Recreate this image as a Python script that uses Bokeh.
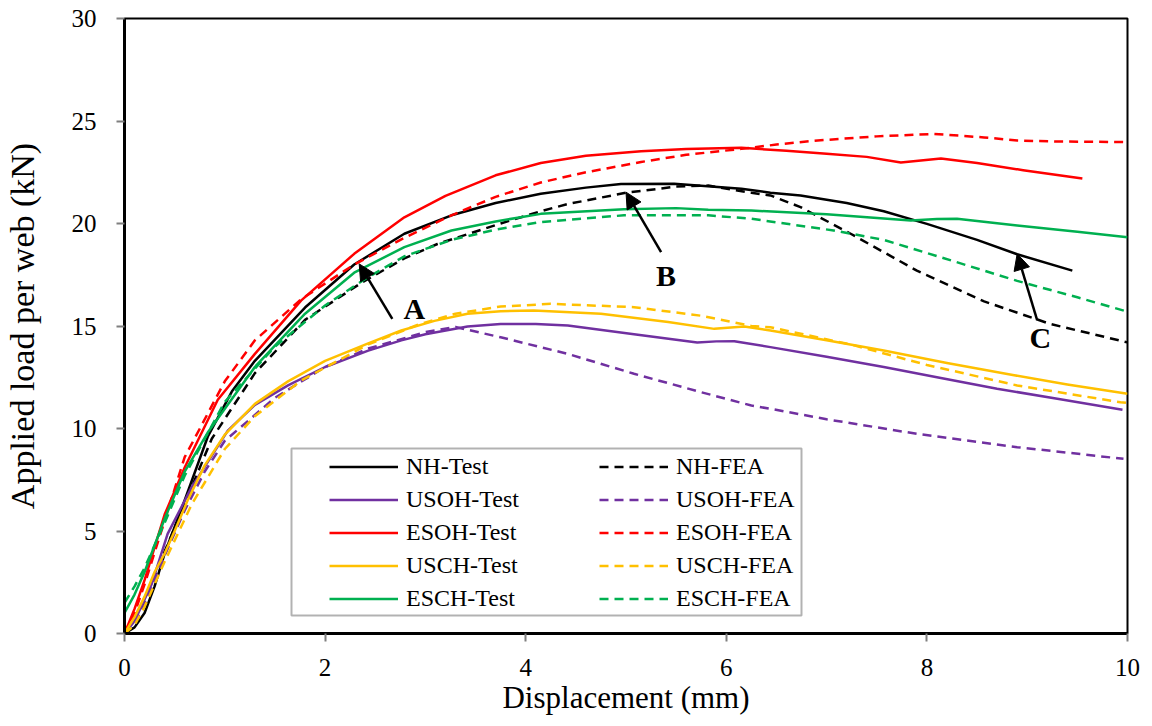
from bokeh.plotting import figure
from bokeh.models import (Legend, LegendItem, FixedTicker, Arrow, NormalHead,
                          Label, BoxAnnotation, Range1d)
from bokeh.embed import file_html
from bokeh.resources import INLINE

FONT = "Liberation Serif"

# ---------------- data ----------------
nh_test_x = [0, 0.1, 0.2, 0.3, 0.4, 0.6, 0.83, 1.07, 1.3, 1.8, 2.29, 2.79, 3.26, 3.7, 4.15, 4.6, 4.95, 5.48, 6.15, 6.44, 6.74, 7.2, 7.57, 8.0, 8.5, 8.9, 9.45]
nh_test_y = [0, 0.3, 1.0, 2.3, 3.9, 6.5, 9.6, 11.8, 13.3, 15.9, 18.0, 19.5, 20.4, 21.0, 21.45, 21.75, 21.93, 21.94, 21.7, 21.5, 21.37, 21.0, 20.6, 19.98, 19.2, 18.5, 17.7]

nh_fea_x = [0, 0.1, 0.2, 0.4, 0.6, 0.87, 1.3, 1.8, 2.36, 2.79, 3.12, 3.75, 4.15, 4.42, 5.0, 5.5, 5.82, 6.25, 6.44, 6.74, 7.24, 7.9, 8.57, 9.23, 10]
nh_fea_y = [0, 0.6, 1.6, 4.0, 6.3, 9.5, 12.7, 15.3, 17.1, 18.3, 19.0, 20.0, 20.6, 20.95, 21.5, 21.8, 21.85, 21.5, 21.37, 20.8, 19.5, 17.7, 16.2, 15.1, 14.2]

esoh_test_x = [0, 0.1, 0.2, 0.4, 0.6, 0.93, 1.3, 1.76, 2.29, 2.79, 3.2, 3.7, 4.15, 4.6, 5.15, 5.6, 6.15, 6.6, 7.0, 7.4, 7.74, 8.14, 8.5, 8.96, 9.55]
esoh_test_y = [0, 1.2, 2.6, 5.8, 8.1, 11.4, 13.64, 16.24, 18.52, 20.3, 21.35, 22.35, 22.95, 23.3, 23.52, 23.64, 23.69, 23.55, 23.4, 23.25, 22.98, 23.17, 22.95, 22.6, 22.2]

esoh_fea_x = [0, 0.1, 0.2, 0.4, 0.6, 1.0, 1.3, 1.76, 2.29, 2.79, 3.26, 3.7, 4.15, 4.6, 5.15, 5.6, 6.15, 6.5, 6.91, 7.5, 8.07, 8.57, 8.9, 9.3, 10]
esoh_fea_y = [0, 1.0, 2.4, 5.5, 8.6, 12.3, 14.3, 16.3, 18.0, 19.3, 20.4, 21.3, 22.0, 22.5, 23.0, 23.35, 23.64, 23.85, 24.05, 24.25, 24.37, 24.2, 24.05, 24.0, 23.97]

usoh_test_x = [0, 0.1, 0.27, 0.43, 0.67, 1.03, 1.3, 1.63, 2.0, 2.43, 2.76, 3.0, 3.42, 3.75, 4.1, 4.42, 5.08, 5.71, 5.9, 6.08, 6.44, 7.0, 7.57, 8.1, 8.7, 9.3, 9.95]
usoh_test_y = [0, 0.6, 2.4, 4.86, 7.14, 9.9, 11.15, 12.1, 13.0, 13.8, 14.3, 14.6, 14.98, 15.1, 15.1, 15.02, 14.6, 14.2, 14.25, 14.26, 13.97, 13.5, 13.0, 12.5, 11.94, 11.45, 10.91]

usoh_fea_x = [0, 0.1, 0.2, 0.4, 0.6, 0.8, 1.0, 1.5, 2.0, 2.43, 3.0, 3.3, 3.75, 4.42, 5.08, 5.75, 6.25, 6.44, 7.0, 7.9, 8.9, 9.96]
usoh_fea_y = [0, 0.5, 1.4, 3.8, 6.0, 7.9, 9.4, 11.5, 13.0, 13.9, 14.7, 14.95, 14.45, 13.64, 12.67, 11.77, 11.12, 10.96, 10.45, 9.74, 9.09, 8.52]

usch_test_x = [0, 0.1, 0.2, 0.3, 0.4, 0.5, 0.63, 0.8, 1.0, 1.3, 1.63, 2.0, 2.43, 2.76, 3.09, 3.42, 3.75, 4.08, 4.75, 5.42, 5.88, 6.18, 6.44, 7.0, 7.57, 8.2, 8.87, 9.4, 10]
usch_test_y = [0, 0.8, 1.8, 3.0, 3.9, 5.0, 6.5, 8.2, 9.7, 11.2, 12.3, 13.3, 14.15, 14.78, 15.25, 15.6, 15.72, 15.76, 15.6, 15.2, 14.86, 14.98, 14.78, 14.3, 13.8, 13.2, 12.6, 12.15, 11.7]

usch_fea_x = [0, 0.1, 0.2, 0.4, 0.67, 1.0, 1.3, 1.76, 2.43, 2.92, 3.3, 3.75, 4.25, 5.08, 5.75, 6.25, 6.44, 7.24, 8.0, 8.9, 9.93, 10]
usch_fea_y = [0, 0.4, 1.3, 3.5, 6.3, 9.0, 10.6, 12.34, 14.1, 15.05, 15.6, 15.95, 16.08, 15.92, 15.5, 15.0, 14.94, 14.1, 13.1, 12.1, 11.28, 11.25]

esch_test_x = [0, 0.1, 0.2, 0.4, 0.6, 0.83, 1.3, 1.8, 2.29, 2.79, 3.26, 3.7, 4.15, 4.98, 5.5, 5.82, 6.25, 7.0, 7.84, 8.1, 8.3, 8.9, 9.5, 10]
esch_test_y = [1.0, 1.9, 3.0, 5.6, 7.9, 9.8, 13.0, 15.6, 17.6, 18.85, 19.66, 20.1, 20.47, 20.7, 20.75, 20.67, 20.63, 20.45, 20.15, 20.22, 20.23, 19.9, 19.6, 19.33]

esch_fea_x = [0, 0.1, 0.2, 0.4, 0.6, 1.0, 1.5, 2.0, 2.4, 2.79, 3.26, 3.7, 4.15, 4.98, 5.82, 6.25, 7.07, 7.57, 8.24, 8.9, 9.5, 10]
esch_fea_y = [1.5, 2.3, 3.2, 5.4, 7.7, 11.3, 14.0, 16.0, 17.3, 18.4, 19.2, 19.7, 20.07, 20.4, 20.4, 20.23, 19.66, 19.2, 18.2, 17.2, 16.4, 15.7]

series_names = ["NH", "USOH", "ESOH", "USCH", "ESCH"]
series_colors = ["#000000", "#7030A0", "#FF0000", "#FFC000", "#00B050"]
test_data = [(nh_test_x, nh_test_y), (usoh_test_x, usoh_test_y), (esoh_test_x, esoh_test_y),
             (usch_test_x, usch_test_y), (esch_test_x, esch_test_y)]
fea_data = [(nh_fea_x, nh_fea_y), (usoh_fea_x, usoh_fea_y), (esoh_fea_x, esoh_fea_y),
            (usch_fea_x, usch_fea_y), (esch_fea_x, esch_fea_y)]

x_ticks = [0, 2, 4, 6, 8, 10]
y_ticks = [0, 5, 10, 15, 20, 25, 30]

# annotation arrows: (tail x, tail y, head x, head y) and letters
arrow_names = ["A", "B", "C"]
arrow_tail_x = [2.67, 5.35, 9.10]
arrow_tail_y = [15.35, 18.60, 15.27]
arrow_head_x = [2.34, 5.00, 8.90]
arrow_head_y = [18.03, 21.53, 18.52]
letter_x = [2.89, 5.40, 9.13]
letter_y = [15.84, 17.46, 14.45]

# ---------------- figure ----------------
p = figure(width=1144, height=723, output_backend="svg", toolbar_location=None,
           x_range=Range1d(0, 10), y_range=Range1d(0, 30),
           min_border_left=123, min_border_right=17, min_border_top=18, min_border_bottom=90)
p.background_fill_color = "white"
p.border_fill_color = "white"
p.grid.visible = False
p.outline_line_color = "black"
p.outline_line_width = 2

for ax, ticks in ((p.xaxis[0], x_ticks), (p.yaxis[0], y_ticks)):
    ax.ticker = FixedTicker(ticks=ticks)
    ax.minor_tick_line_color = None
    ax.major_tick_in = 0
    ax.major_tick_out = 8
    ax.major_tick_line_color = "#7f7f7f"
    ax.major_tick_line_width = 2
    ax.axis_line_color = "black"
    ax.axis_line_width = 3
    ax.major_label_text_font = FONT
    ax.major_label_text_font_size = "25px"
    ax.major_label_text_color = "black"
    ax.axis_label_text_font = FONT
    ax.axis_label_text_font_style = "normal"
    ax.axis_label_text_color = "black"

p.xaxis.axis_label = "Displacement (mm)"
p.xaxis.axis_label_text_font_size = "31px"
p.xaxis.major_label_standoff = 17
p.xaxis.axis_label_standoff = 1
p.yaxis.axis_label = "Applied load per web (kN)"
p.yaxis.axis_label_text_font_size = "34px"
p.yaxis.major_label_standoff = 20
p.yaxis.axis_label_standoff = 28

test_items = []
fea_items = []
for name, color, (tx, ty), (fx, fy) in zip(series_names, series_colors, test_data, fea_data):
    rt = p.line(tx, ty, line_color=color, line_width=2.5, line_join="round")
    rf = p.line(fx, fy, line_color=color, line_width=2.5, line_dash="9 6", line_join="round")
    test_items.append(LegendItem(label=name + "-Test", renderers=[rt]))
    fea_items.append(LegendItem(label=name + "-FEA", renderers=[rf]))

for i in range(len(arrow_names)):
    p.add_layout(Arrow(end=NormalHead(size=16, fill_color="black", line_color="black", line_width=1),
                       x_start=arrow_tail_x[i], y_start=arrow_tail_y[i],
                       x_end=arrow_head_x[i], y_end=arrow_head_y[i],
                       line_color="black", line_width=2.5))
    p.add_layout(Label(x=letter_x[i], y=letter_y[i], text=arrow_names[i],
                       text_font=FONT, text_font_style="bold", text_font_size="30px",
                       text_align="center", text_baseline="middle", text_color="black"))

def make_legend(items, loc):
    lg = Legend(items=items, location=loc, orientation="vertical")
    lg.border_line_color = None
    lg.background_fill_alpha = 0
    lg.padding = 0
    lg.margin = 0
    lg.spacing = 6
    lg.glyph_width = 69
    lg.glyph_height = 27
    lg.label_height = 27
    lg.label_standoff = 8
    lg.label_text_font = FONT
    lg.label_text_font_size = "24px"
    lg.label_text_color = "black"
    lg.label_text_baseline = "middle"
    return lg

p.add_layout(make_legend(test_items, (205, 21)), "center")
p.add_layout(make_legend(fea_items, (475, 21)), "center")

p.add_layout(BoxAnnotation(left=167, right=677, bottom=18, top=185,
                           left_units="screen", right_units="screen",
                           bottom_units="screen", top_units="screen",
                           fill_alpha=0, line_color="black", line_width=2))

open("out.html", "w").write(file_html(p, INLINE))
